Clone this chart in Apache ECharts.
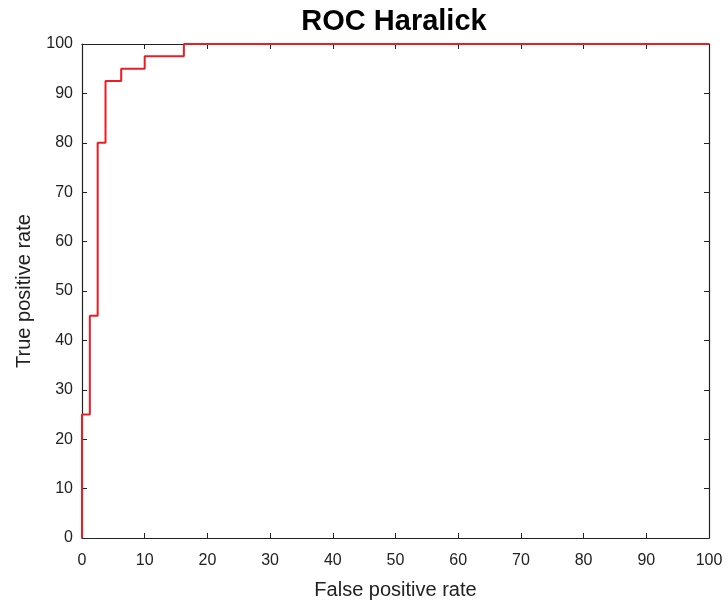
<!DOCTYPE html>
<html>
<head>
<meta charset="utf-8">
<script src="https://cdn.jsdelivr.net/npm/echarts@6/dist/echarts.min.js"></script>
<style>
  html, body { margin: 0; padding: 0; background: #fff; }
  #chart { width: 728px; height: 605px; }
</style>
</head>
<body>
<div id="chart"></div>
<script>
// ROC corner points (percent)
const fpr = [0, 0, 1.25, 2.5, 3.75, 6.25, 10, 16.25, 100]
const tpr = [0, 25, 45, 80, 92.5, 95, 97.5, 100, 100]
const ticks = [0, 10, 20, 30, 40, 50, 60, 70, 80, 90, 100]

;(function () {
  const chart = echarts.init(document.getElementById('chart'))
  const font = 'Liberation Sans, Arial, sans-serif'
  const lineColor = '#222'

  const frameAxis = (extra) => Object.assign({
    type: 'value',
    min: 0,
    max: 100,
    interval: 10,
    axisLine: { show: true, onZero: false, lineStyle: { color: lineColor, width: 1.2 } },
    axisTick: { show: true, inside: true, length: 5, lineStyle: { color: lineColor } },
    splitLine: { show: false }
  }, extra)

  const options = {
    animation: false,
    title: {
      text: 'ROC Haralick',
      left: 389,
      top: 2,
      textAlign: 'center',
      textStyle: { fontFamily: font, fontSize: 29, fontWeight: 'bold', color: '#000' }
    },
    grid: { left: 82, right: 19, top: 44, bottom: 67 },
    xAxis: [
      frameAxis({
        position: 'bottom',
        name: 'False positive rate',
        nameLocation: 'middle',
        nameGap: 42,
        nameTextStyle: { fontFamily: font, fontSize: 20, color: '#222' },
        axisLabel: { fontFamily: font, fontSize: 16, color: '#222', margin: 15 }
      }),
      frameAxis({ position: 'top', axisLabel: { show: false } })
    ],
    yAxis: [
      frameAxis({
        position: 'left',
        name: 'True positive rate',
        nameLocation: 'middle',
        nameGap: 48,
        nameTextStyle: { fontFamily: font, fontSize: 20, color: '#222' },
        axisLabel: { fontFamily: font, fontSize: 16, color: '#222', margin: 9 }
      }),
      frameAxis({ position: 'right', axisLabel: { show: false } })
    ],
    series: [
      {
        type: 'line',
        step: 'end',
        xAxisIndex: 0,
        yAxisIndex: 0,
        symbol: 'none',
        lineStyle: { color: '#ee1c24', width: 2 },
        data: fpr.map((x, i) => [x, tpr[i]])
      }
    ]
  }

  chart.setOption(options)
  window.addEventListener('resize', function () { chart.resize() })
})()
</script>
</body>
</html>
